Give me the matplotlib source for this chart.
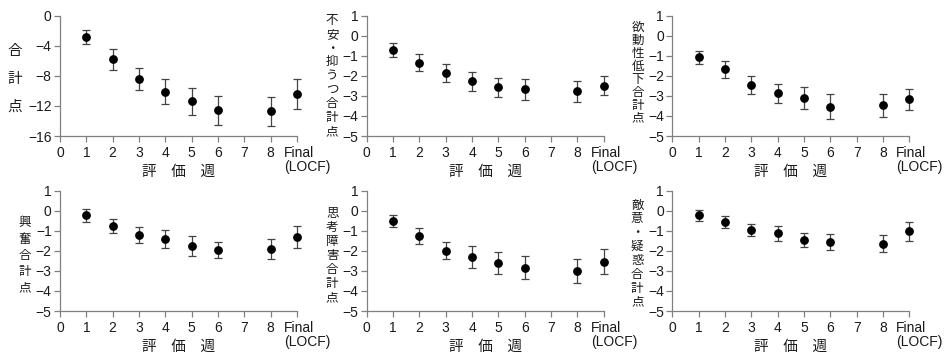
import numpy as np
import matplotlib
matplotlib.use('Agg')
import matplotlib.pyplot as plt
from matplotlib.transforms import ScaledTranslation

plt.rcParams['font.family'] = ['Liberation Sans', 'Noto Sans CJK JP']

# evaluation weeks (Final = LOCF, drawn at position 9)
weeks = [1, 2, 3, 4, 5, 6, 8, 9]
tick_pos = [0, 1, 2, 3, 4, 5, 6, 7, 8, 9]
tick_labels = ['0', '1', '2', '3', '4', '5', '6', '7', '8', 'Final\n(LOCF)']

# mean change from baseline and error (half bar length)
total_mean = [-2.8, -5.8, -8.4, -10.1, -11.4, -12.6, -12.7, -10.4]
total_err = [0.9, 1.4, 1.5, 1.7, 1.8, 1.9, 1.95, 1.95]

anx_mean = [-0.73, -1.35, -1.86, -2.28, -2.58, -2.68, -2.78, -2.49]
anx_err = [0.35, 0.42, 0.44, 0.48, 0.47, 0.54, 0.50, 0.49]

anerg_mean = [-1.08, -1.68, -2.46, -2.88, -3.11, -3.54, -3.47, -3.17]
anerg_err = [0.33, 0.42, 0.47, 0.49, 0.53, 0.61, 0.57, 0.53]

activ_mean = [-0.23, -0.76, -1.23, -1.41, -1.75, -1.96, -1.91, -1.30]
activ_err = [0.33, 0.37, 0.40, 0.43, 0.49, 0.42, 0.48, 0.54]

thought_mean = [-0.53, -1.26, -1.99, -2.31, -2.61, -2.83, -3.02, -2.54]
thought_err = [0.30, 0.38, 0.44, 0.53, 0.54, 0.59, 0.60, 0.62]

hostil_mean = [-0.23, -0.58, -0.96, -1.13, -1.46, -1.56, -1.65, -1.03]
hostil_err = [0.27, 0.30, 0.32, 0.38, 0.37, 0.38, 0.42, 0.48]

# vertical (stacked) y-axis titles
ylabels = ['合計点', '不安・抑うつ合計点', '欲動性低下合計点',
           '興奮合計点', '思考障害合計点', '敵意・疑惑合計点']

panels = [
    (total_mean, total_err, (-16, 0), [0, -4, -8, -12, -16]),
    (anx_mean, anx_err, (-5, 1), [1, 0, -1, -2, -3, -4, -5]),
    (anerg_mean, anerg_err, (-5, 1), [1, 0, -1, -2, -3, -4, -5]),
    (activ_mean, activ_err, (-5, 1), [1, 0, -1, -2, -3, -4, -5]),
    (thought_mean, thought_err, (-5, 1), [1, 0, -1, -2, -3, -4, -5]),
    (hostil_mean, hostil_err, (-5, 1), [1, 0, -1, -2, -3, -4, -5]),
]

# per-panel title placement: (x, y in axes coords, fontsize, char step in pt)
label_pos = [(-0.19, 0.474, 10.5, 19.8), (-0.146, 0.5, 9, 10.0), (-0.145, 0.524, 9, 9.3),
             (-0.148, 0.461, 9, 11.7), (-0.146, 0.461, 9, 10.2), (-0.148, 0.477, 9, 10.0)]

fig = plt.figure(figsize=(9.52, 3.55), dpi=100)
lefts = [0.0630, 0.3852, 0.7062]
bottoms = [0.6169, 0.1239]
axis_col = '#808080'

for i, (mean, err, ylim, yt) in enumerate(panels):
    ax = fig.add_axes([lefts[i % 3], bottoms[i // 3], 0.2490, 0.3389])
    ax.errorbar(weeks, mean, yerr=err, fmt='o', color='black', ms=5.3,
                ecolor='#444444', elinewidth=0.9, capsize=2.8, capthick=0.9,
                clip_on=False, zorder=3)
    ax.set_xlim(0, 9)
    ax.set_ylim(*ylim)
    ax.set_yticks(yt)
    ax.set_xticks(tick_pos)
    ax.set_xticklabels(tick_labels)
    for s in ['top', 'right']:
        ax.spines[s].set_visible(False)
    for s in ['left', 'bottom']:
        ax.spines[s].set_color(axis_col)
        ax.spines[s].set_linewidth(0.9)
    ax.tick_params(direction='out', length=4, width=0.9, color=axis_col,
                   labelsize=10, labelcolor='#1a1a1a', pad=2)
    ax.tick_params(axis='x', pad=3)
    fin = ax.get_xticklabels()[-1]
    fin.set_ha('left')
    fin.set_multialignment('left')
    fin.set_linespacing(1.0)
    fin.set_transform(fin.get_transform() + ScaledTranslation(-0.13, 0, fig.dpi_scale_trans))

    ax.set_xlabel('評　価　週', fontsize=10.5, family=['Noto Sans CJK JP'], color='#1a1a1a')
    ax.xaxis.set_label_coords(0.5, -0.30)
    ax.xaxis.label.set_va('center')

    # stack the title one character at a time
    lx, ly, fs, step = label_pos[i]
    chars = list(ylabels[i])
    n = len(chars)
    for k, ch in enumerate(chars):
        off = (k - (n - 1) / 2) * step
        tr = ax.transAxes + ScaledTranslation(0, -off / 72, fig.dpi_scale_trans)
        ax.text(lx, ly, ch, transform=tr, ha='center', va='center',
                fontsize=fs, family=['Noto Sans CJK JP'], color='#1a1a1a')

fig.savefig('out.png', dpi=100)
